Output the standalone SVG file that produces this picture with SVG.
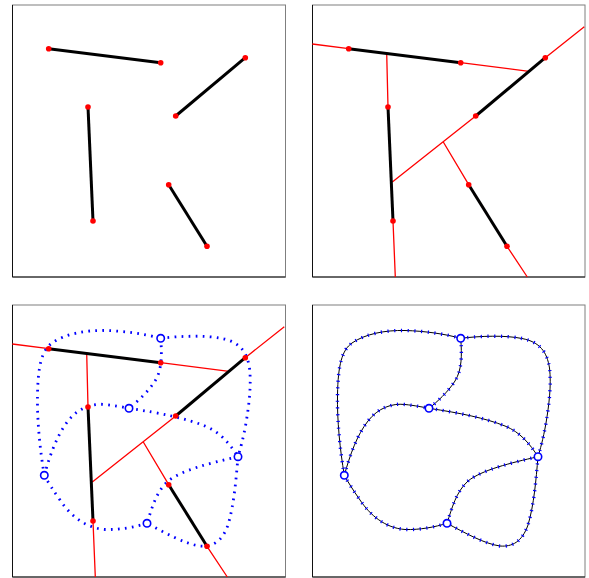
<svg xmlns="http://www.w3.org/2000/svg" xmlns:xlink="http://www.w3.org/1999/xlink" width="589" height="578" viewBox="0 0 589 578">
<style>
.frame{fill:#fff;stroke:#7f7f7f;stroke-width:1}
.frameb{fill:none;stroke:#111;stroke-width:1}
.red{fill:none;stroke:#ff0000;stroke-width:1.3}
.seg{fill:none;stroke:#000;stroke-width:3}
.dot{fill:#ff0000}
.dotted{fill:none;stroke:#0000ff;stroke-width:2.8;stroke-dasharray:1.7 5.3}
.thin{fill:none;stroke:#000;stroke-width:1}
.ticks{fill:none;stroke:#0000ff;stroke-width:3.4;stroke-dasharray:1.2 5.5}
.node{fill:#fff;stroke:#0000ff;stroke-width:1.6}
</style>
<defs>
  <g id="redlines">
    <polyline class="red" points="12.3,44 48.7,48.7 160.7,62.7 229,71.3"/>
    <polyline class="red" points="284.3,26.7 245.3,57.7 175.7,116 92.3,182"/>
    <polyline class="red" points="86.7,53.5 88,107 93,221 95.3,277"/>
    <polyline class="red" points="143.3,142 168.7,184.7 207,246.3 227.3,277"/>
  </g>
  <g id="segs">
    <line class="seg" x1="48.7" y1="48.7" x2="160.7" y2="62.7"/>
    <line class="seg" x1="245.3" y1="57.7" x2="175.7" y2="116"/>
    <line class="seg" x1="88" y1="107" x2="93" y2="221"/>
    <line class="seg" x1="168.7" y1="184.7" x2="207" y2="246.3"/>
  </g>
  <g id="dots">
    <circle class="dot" cx="48.7" cy="48.7" r="2.8"/>
    <circle class="dot" cx="160.7" cy="62.7" r="2.8"/>
    <circle class="dot" cx="245.3" cy="57.7" r="2.8"/>
    <circle class="dot" cx="175.7" cy="116" r="2.8"/>
    <circle class="dot" cx="88" cy="107" r="2.8"/>
    <circle class="dot" cx="93" cy="221" r="2.8"/>
    <circle class="dot" cx="168.7" cy="184.7" r="2.8"/>
    <circle class="dot" cx="207" cy="246.3" r="2.8"/>
  </g>
  <path id="curves" d="M44.3,175.3 C40,150 37,120 37.5,95 C38,65 42,50 52,43 C65,34 85,30 105,30.5 C125,31 145,34 160.7,38.3
    M160.7,38.3 C180,36 205,35 222,38.5 C240,42 247,52 249.5,68 C251.5,85 249,105 246,123 C243,140 240,150 238,156.7
    M238,156.7 C236,180 234,205 228,225 C222,242 212,247 200,246 C185,244 165,233 147,223.3
    M147,223.3 C135,227 120,230 105,229.5 C85,228 70,215 60,200 C53,190 48,182 44.3,175.3
    M44.3,175.3 C50,155 57,135 68,121 C78,108 92,103 105,104.5 C115,105.5 122,107 129,108.3
    M129,108.3 C160,113 185,118 205,126 C220,132 230,144 238,156.7
    M160.7,38.3 C162,55 162,70 155,81 C148,92 137,102 129,108.3
    M238,156.7 C210,163 182,170 168,181 C156,192 152,208 147,223.3"/>
  <g id="nodes">
    <circle class="node" cx="160.7" cy="38.3" r="3.7"/>
    <circle class="node" cx="129" cy="108.3" r="3.7"/>
    <circle class="node" cx="44.3" cy="175.3" r="3.7"/>
    <circle class="node" cx="238" cy="156.7" r="3.7"/>
    <circle class="node" cx="147" cy="223.3" r="3.7"/>
  </g>
</defs>

<g id="panel1">
  <rect class="frame" x="12.5" y="5" width="273" height="272"/>
  <polyline class="frameb" points="12.5,5 12.5,277 285.5,277"/>
  <use xlink:href="#segs"/>
  <use xlink:href="#dots"/>
</g>

<g id="panel2" transform="translate(300,0)">
  <rect class="frame" x="12.5" y="5" width="272.5" height="272"/>
  <polyline class="frameb" points="12.5,5 12.5,277 285,277"/>
  <use xlink:href="#redlines"/>
  <use xlink:href="#segs"/>
  <use xlink:href="#dots"/>
</g>

<g id="panel3" transform="translate(0,300)">
  <rect class="frame" x="12.5" y="5" width="273" height="272"/>
  <polyline class="frameb" points="12.5,5 12.5,277 285.5,277"/>
  <use xlink:href="#redlines"/>
  <use xlink:href="#segs"/>
  <use xlink:href="#curves" class="dotted"/>
  <use xlink:href="#dots"/>
  <use xlink:href="#nodes"/>
</g>

<g id="panel4" transform="translate(300,300)">
  <rect class="frame" x="12.5" y="5" width="272.5" height="272"/>
  <polyline class="frameb" points="12.5,5 12.5,277 285,277"/>
  <use xlink:href="#curves" class="thin"/>
  <use xlink:href="#curves" class="ticks"/>
  <use xlink:href="#nodes"/>
</g>
</svg>
